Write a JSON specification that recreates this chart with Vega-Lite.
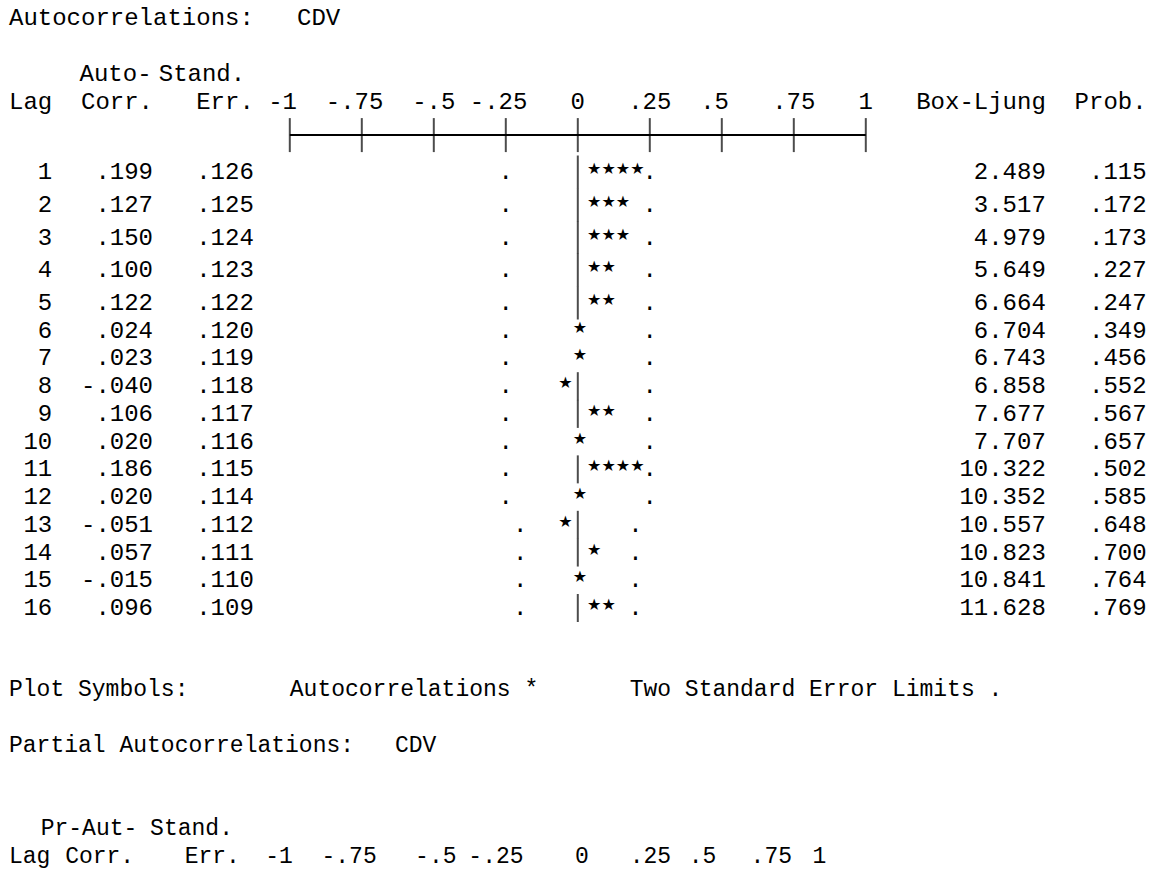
{
  "$schema": "https://vega.github.io/schema/vega-lite/v6.json",
  "width": 1152,
  "height": 872,
  "autosize": {"type": "none"},
  "padding": 0,
  "background": "white",
  "config": {
    "view": {"stroke": null},
    "text": {"font": "Liberation Mono", "fontSize": 24, "color": "black", "baseline": "middle"}
  },
  "datasets": {
    "head": [
      {"t": "Autocorrelations:", "c": 0, "l": 0},
      {"t": "CDV", "c": 20, "l": 0},
      {"t": "Auto-", "c": 4.9, "l": 2},
      {"t": "Stand.", "c": 10.4, "l": 2},
      {"t": "Lag", "c": 0, "l": 3},
      {"t": "Corr.", "c": 5, "l": 3},
      {"t": "Err.", "c": 13, "l": 3},
      {"t": "-1", "c": 18, "l": 3},
      {"t": "-.75", "c": 22, "l": 3},
      {"t": "-.5", "c": 28, "l": 3},
      {"t": "-.25", "c": 32, "l": 3},
      {"t": "0", "c": 39, "l": 3},
      {"t": ".25", "c": 43, "l": 3},
      {"t": ".5", "c": 48, "l": 3},
      {"t": ".75", "c": 53, "l": 3},
      {"t": "1", "c": 59, "l": 3},
      {"t": "Box-Ljung", "c": 63, "l": 3},
      {"t": "Prob.", "c": 74, "l": 3}
    ],
    "foot": [
      {"t": "Plot Symbols:", "c": 0, "l": 24},
      {"t": "Autocorrelations *", "c": 19.5, "l": 24},
      {"t": "Two Standard Error Limits .", "c": 43.1, "l": 24},
      {"t": "Partial Autocorrelations:", "c": 0, "l": 26},
      {"t": "CDV", "c": 26.8, "l": 26},
      {"t": "Pr-Aut-", "c": 2.2, "l": 29},
      {"t": "Stand.", "c": 9.8, "l": 29},
      {"t": "Lag", "c": 0, "l": 30},
      {"t": "Corr.", "c": 3.9, "l": 30},
      {"t": "Err.", "c": 12.2, "l": 30},
      {"t": "-1", "c": 17.8, "l": 30},
      {"t": "-.75", "c": 21.7, "l": 30},
      {"t": "-.5", "c": 28.2, "l": 30},
      {"t": "-.25", "c": 31.9, "l": 30},
      {"t": "0", "c": 39.3, "l": 30},
      {"t": ".25", "c": 43.1, "l": 30},
      {"t": ".5", "c": 47.2, "l": 30},
      {"t": ".75", "c": 51.5, "l": 30},
      {"t": "1", "c": 55.8, "l": 30}
    ],
    "acf": [
      {"lag": 1, "ac": ".199", "se": ".126", "bl": "2.489", "p": ".115", "bar": true, "lo": -0.25, "hi": 0.25},
      {"lag": 2, "ac": ".127", "se": ".125", "bl": "3.517", "p": ".172", "bar": true, "lo": -0.25, "hi": 0.25},
      {"lag": 3, "ac": ".150", "se": ".124", "bl": "4.979", "p": ".173", "bar": true, "lo": -0.25, "hi": 0.25},
      {"lag": 4, "ac": ".100", "se": ".123", "bl": "5.649", "p": ".227", "bar": true, "lo": -0.25, "hi": 0.25},
      {"lag": 5, "ac": ".122", "se": ".122", "bl": "6.664", "p": ".247", "bar": true, "lo": -0.25, "hi": 0.25},
      {"lag": 6, "ac": ".024", "se": ".120", "bl": "6.704", "p": ".349", "bar": false, "lo": -0.25, "hi": 0.25},
      {"lag": 7, "ac": ".023", "se": ".119", "bl": "6.743", "p": ".456", "bar": false, "lo": -0.25, "hi": 0.25},
      {"lag": 8, "ac": "-.040", "se": ".118", "bl": "6.858", "p": ".552", "bar": true, "lo": -0.25, "hi": 0.25},
      {"lag": 9, "ac": ".106", "se": ".117", "bl": "7.677", "p": ".567", "bar": true, "lo": -0.25, "hi": 0.25},
      {"lag": 10, "ac": ".020", "se": ".116", "bl": "7.707", "p": ".657", "bar": false, "lo": -0.25, "hi": 0.25},
      {"lag": 11, "ac": ".186", "se": ".115", "bl": "10.322", "p": ".502", "bar": true, "lo": -0.25, "hi": 0.25},
      {"lag": 12, "ac": ".020", "se": ".114", "bl": "10.352", "p": ".585", "bar": false, "lo": -0.25, "hi": 0.25},
      {"lag": 13, "ac": "-.051", "se": ".112", "bl": "10.557", "p": ".648", "bar": true, "lo": -0.2, "hi": 0.2},
      {"lag": 14, "ac": ".057", "se": ".111", "bl": "10.823", "p": ".700", "bar": true, "lo": -0.2, "hi": 0.2},
      {"lag": 15, "ac": "-.015", "se": ".110", "bl": "10.841", "p": ".764", "bar": false, "lo": -0.2, "hi": 0.2},
      {"lag": 16, "ac": ".096", "se": ".109", "bl": "11.628", "p": ".769", "bar": true, "lo": -0.2, "hi": 0.2}
    ],
    "stars": [
      {"lag": 1, "pos": 0.05}, {"lag": 1, "pos": 0.10}, {"lag": 1, "pos": 0.15}, {"lag": 1, "pos": 0.20},
      {"lag": 2, "pos": 0.05}, {"lag": 2, "pos": 0.10}, {"lag": 2, "pos": 0.15},
      {"lag": 3, "pos": 0.05}, {"lag": 3, "pos": 0.10}, {"lag": 3, "pos": 0.15},
      {"lag": 4, "pos": 0.05}, {"lag": 4, "pos": 0.10},
      {"lag": 5, "pos": 0.05}, {"lag": 5, "pos": 0.10},
      {"lag": 6, "pos": 0},
      {"lag": 7, "pos": 0},
      {"lag": 8, "pos": -0.05},
      {"lag": 9, "pos": 0.05}, {"lag": 9, "pos": 0.10},
      {"lag": 10, "pos": 0},
      {"lag": 11, "pos": 0.05}, {"lag": 11, "pos": 0.10}, {"lag": 11, "pos": 0.15}, {"lag": 11, "pos": 0.20},
      {"lag": 12, "pos": 0},
      {"lag": 13, "pos": -0.05},
      {"lag": 14, "pos": 0.05},
      {"lag": 15, "pos": 0},
      {"lag": 16, "pos": 0.05}, {"lag": 16, "pos": 0.10}
    ],
    "ticks": [
      {"v": -1}, {"v": -0.75}, {"v": -0.5}, {"v": -0.25}, {"v": 0},
      {"v": 0.25}, {"v": 0.5}, {"v": 0.75}, {"v": 1}
    ]
  },
  "resolve": {"scale": {"x": "independent", "y": "independent"}},
  "layer": [
    {
      "data": {"name": "head"},
      "mark": {"type": "text", "align": "left"},
      "encoding": {
        "x": {"field": "c", "type": "quantitative", "scale": {"domain": [0, 80], "range": [9, 1161], "nice": false, "zero": false}, "axis": null},
        "y": {"field": "l", "type": "quantitative", "scale": {"domain": [0, 30], "range": [18, 856], "nice": false, "zero": false}, "axis": null},
        "text": {"field": "t"}
      }
    },
    {
      "data": {"name": "foot"},
      "mark": {"type": "text", "align": "left", "fontSize": 23},
      "encoding": {
        "x": {"field": "c", "type": "quantitative", "scale": {"domain": [0, 80], "range": [9, 1161], "nice": false, "zero": false}, "axis": null},
        "y": {"field": "l", "type": "quantitative", "scale": {"domain": [0, 30], "range": [20, 856], "nice": false, "zero": false}, "axis": null},
        "text": {"field": "t"}
      }
    },
    {
      "data": {"name": "ticks"},
      "mark": {"type": "tick", "orient": "vertical", "size": 34, "thickness": 2, "color": "black"},
      "encoding": {
        "x": {"field": "v", "type": "quantitative", "scale": {"domain": [-1, 1], "range": [289.8, 865.8], "nice": false, "zero": false}, "axis": null},
        "y": {"datum": 4.13, "type": "quantitative", "scale": {"domain": [0, 30], "range": [20, 856], "nice": false, "zero": false}, "axis": null}
      }
    },
    {
      "data": {"name": "ticks"},
      "mark": {"type": "rule", "strokeWidth": 2, "color": "black"},
      "encoding": {
        "x": {"aggregate": "min", "field": "v", "type": "quantitative", "scale": {"domain": [-1, 1], "range": [289.8, 865.8], "nice": false, "zero": false}, "axis": null},
        "x2": {"aggregate": "max", "field": "v"},
        "y": {"datum": 4.13, "type": "quantitative", "scale": {"domain": [0, 30], "range": [20, 856], "nice": false, "zero": false}, "axis": null}
      }
    },
    {
      "data": {"name": "acf"},
      "mark": {"type": "text", "align": "right"},
      "encoding": {
        "x": {"datum": 3, "type": "quantitative", "scale": {"domain": [0, 80], "range": [9, 1161], "nice": false, "zero": false}, "axis": null},
        "y": {"field": "lag", "type": "quantitative", "scale": {"domain": [1, 5, 16], "range": [172, 303, 608], "nice": false, "zero": false}, "axis": null},
        "text": {"field": "lag"}
      }
    },
    {
      "data": {"name": "acf"},
      "mark": {"type": "text", "align": "right"},
      "encoding": {
        "x": {"datum": 10, "type": "quantitative", "scale": {"domain": [0, 80], "range": [9, 1161], "nice": false, "zero": false}, "axis": null},
        "y": {"field": "lag", "type": "quantitative", "scale": {"domain": [1, 5, 16], "range": [172, 303, 608], "nice": false, "zero": false}, "axis": null},
        "text": {"field": "ac"}
      }
    },
    {
      "data": {"name": "acf"},
      "mark": {"type": "text", "align": "right"},
      "encoding": {
        "x": {"datum": 17, "type": "quantitative", "scale": {"domain": [0, 80], "range": [9, 1161], "nice": false, "zero": false}, "axis": null},
        "y": {"field": "lag", "type": "quantitative", "scale": {"domain": [1, 5, 16], "range": [172, 303, 608], "nice": false, "zero": false}, "axis": null},
        "text": {"field": "se"}
      }
    },
    {
      "data": {"name": "acf"},
      "mark": {"type": "text", "align": "right"},
      "encoding": {
        "x": {"datum": 72, "type": "quantitative", "scale": {"domain": [0, 80], "range": [9, 1161], "nice": false, "zero": false}, "axis": null},
        "y": {"field": "lag", "type": "quantitative", "scale": {"domain": [1, 5, 16], "range": [172, 303, 608], "nice": false, "zero": false}, "axis": null},
        "text": {"field": "bl"}
      }
    },
    {
      "data": {"name": "acf"},
      "mark": {"type": "text", "align": "left"},
      "encoding": {
        "x": {"datum": 75, "type": "quantitative", "scale": {"domain": [0, 80], "range": [9, 1161], "nice": false, "zero": false}, "axis": null},
        "y": {"field": "lag", "type": "quantitative", "scale": {"domain": [1, 5, 16], "range": [172, 303, 608], "nice": false, "zero": false}, "axis": null},
        "text": {"field": "p"}
      }
    },
    {
      "data": {"name": "acf"},
      "transform": [{"filter": "datum.bar && datum.lag <= 5"}],
      "mark": {"type": "tick", "orient": "vertical", "size": 33, "thickness": 2, "color": "black"},
      "encoding": {
        "x": {"datum": 0, "type": "quantitative", "scale": {"domain": [-1, 1], "range": [289.8, 865.8], "nice": false, "zero": false}, "axis": null},
        "y": {"field": "lag", "type": "quantitative", "scale": {"domain": [1, 5, 16], "range": [172, 303, 608], "nice": false, "zero": false}, "axis": null}
      }
    },
    {
      "data": {"name": "acf"},
      "transform": [{"filter": "datum.bar && datum.lag > 5"}],
      "mark": {"type": "tick", "orient": "vertical", "size": 28, "thickness": 2, "color": "black"},
      "encoding": {
        "x": {"datum": 0, "type": "quantitative", "scale": {"domain": [-1, 1], "range": [289.8, 865.8], "nice": false, "zero": false}, "axis": null},
        "y": {"field": "lag", "type": "quantitative", "scale": {"domain": [1, 5, 16], "range": [172, 303, 608], "nice": false, "zero": false}, "axis": null}
      }
    },
    {
      "data": {"name": "acf"},
      "mark": {"type": "text", "align": "center", "text": "."},
      "encoding": {
        "x": {"field": "lo", "type": "quantitative", "scale": {"domain": [-1, 1], "range": [289.8, 865.8], "nice": false, "zero": false}, "axis": null},
        "y": {"field": "lag", "type": "quantitative", "scale": {"domain": [1, 5, 16], "range": [172, 303, 608], "nice": false, "zero": false}, "axis": null}
      }
    },
    {
      "data": {"name": "acf"},
      "mark": {"type": "text", "align": "center", "text": "."},
      "encoding": {
        "x": {"field": "hi", "type": "quantitative", "scale": {"domain": [-1, 1], "range": [289.8, 865.8], "nice": false, "zero": false}, "axis": null},
        "y": {"field": "lag", "type": "quantitative", "scale": {"domain": [1, 5, 16], "range": [172, 303, 608], "nice": false, "zero": false}, "axis": null}
      }
    },
    {
      "data": {"name": "stars"},
      "mark": {"type": "text", "align": "center", "text": "★", "font": "DejaVu Sans", "fontSize": 16, "dy": -3},
      "encoding": {
        "x": {"field": "pos", "type": "quantitative", "scale": {"domain": [-1, 1], "range": [291.8, 867.8], "nice": false, "zero": false}, "axis": null},
        "y": {"field": "lag", "type": "quantitative", "scale": {"domain": [1, 5, 16], "range": [172, 303, 608], "nice": false, "zero": false}, "axis": null}
      }
    }
  ]
}
